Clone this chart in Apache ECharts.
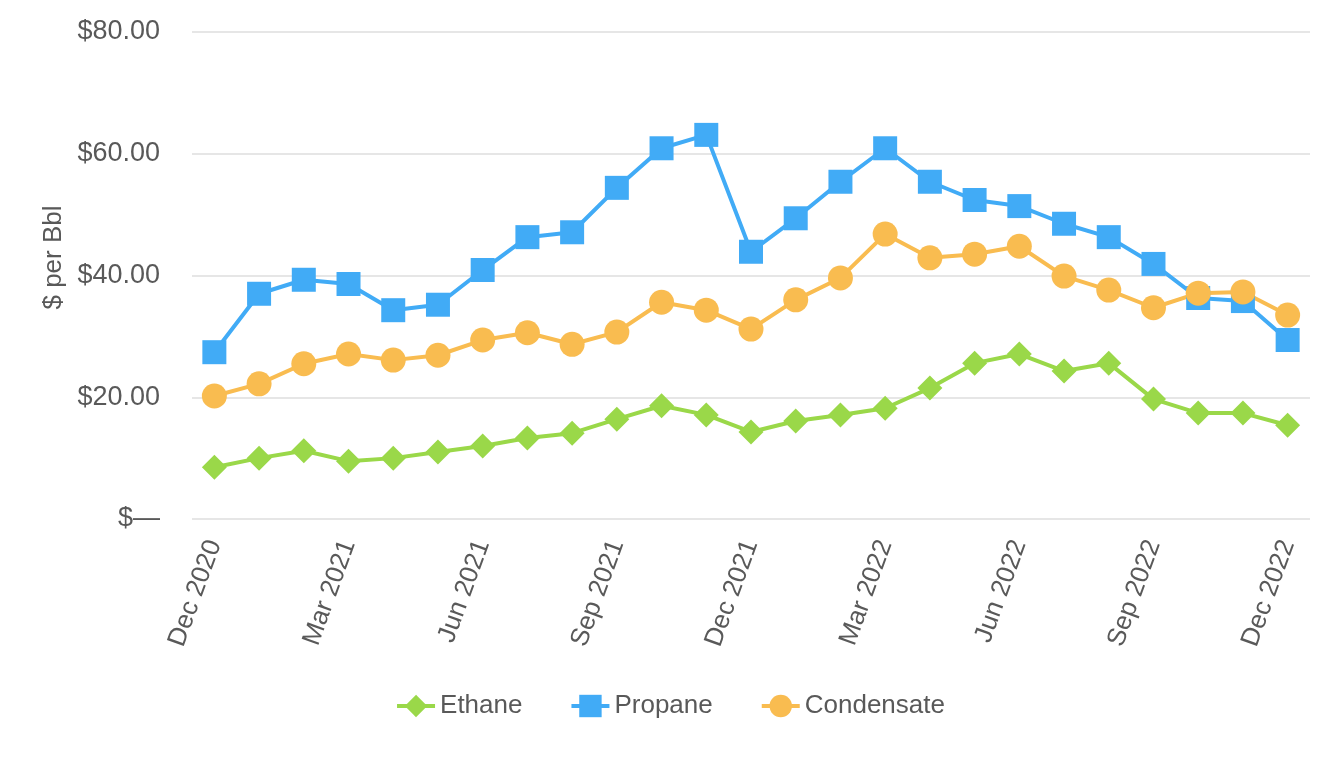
<!DOCTYPE html>
<html>
<head>
<meta charset="utf-8">
<script src="https://cdn.jsdelivr.net/npm/echarts@6/dist/echarts.min.js"></script>
<style>
html,body{margin:0;padding:0;background:#fff;}
#chart{width:1340px;height:760px;}
</style>
</head>
<body>
<div id="chart"></div>
<script>
const categories = ['Dec 2020','Jan 2021','Feb 2021','Mar 2021','Apr 2021','May 2021','Jun 2021','Jul 2021','Aug 2021','Sep 2021','Oct 2021','Nov 2021','Dec 2021','Jan 2022','Feb 2022','Mar 2022','Apr 2022','May 2022','Jun 2022','Jul 2022','Aug 2022','Sep 2022','Oct 2022','Nov 2022','Dec 2022'];
const ethane = [8.5,10.0,11.2,9.5,10.0,11.0,12.0,13.3,14.1,16.4,18.6,17.1,14.3,16.1,17.1,18.2,21.5,25.6,27.1,24.3,25.6,19.7,17.4,17.4,15.4];
const propane = [27.4,37.0,39.3,38.6,34.3,35.2,40.9,46.3,47.1,54.4,60.9,63.1,43.9,49.4,55.4,60.9,55.4,52.4,51.4,48.5,46.3,41.9,36.3,35.8,29.4];
const condensate = [20.2,22.2,25.5,27.1,26.1,26.9,29.4,30.6,28.7,30.7,35.6,34.3,31.2,36.0,39.6,46.8,42.9,43.5,44.8,39.9,37.6,34.7,37.1,37.3,33.5];
const yTicks = [0,20,40,60,80];

const chart = echarts.init(document.getElementById('chart'), null, {renderer:'canvas'});
const font = 'Liberation Sans, Arial, Helvetica, sans-serif';
const txt = '#595959';
function line(name, data, color, symbol, size){
  return {name, type:'line', data, symbol, symbolSize:size, showSymbol:true,
    itemStyle:{color}, lineStyle:{color, width:4}, emphasis:{disabled:true}, animation:false};
}
chart.setOption({
  animation:false,
  textStyle:{fontFamily:font},
  grid:{left:192, right:30, top:32, bottom:241, containLabel:false},
  legend:{
    data:['Ethane','Propane','Condensate'], top:688, left:'center',
    itemWidth:38, itemHeight:28, itemGap:47,
    lineStyle:{width:4},
    textStyle:{fontSize:26, color:txt, fontFamily:font}
  },
  xAxis:{
    type:'category', data:categories, boundaryGap:true,
    axisLine:{show:false}, axisTick:{show:false},
    axisLabel:{interval:2, rotate:70, fontSize:26, color:txt, margin:22, fontFamily:font}
  },
  yAxis:{
    type:'value', min:yTicks[0], max:yTicks[yTicks.length-1], interval:20,
    name:'$ per Bbl', nameLocation:'middle', nameGap:125,
    nameTextStyle:{fontSize:26, color:txt, fontFamily:font, padding:[0,0,0,36]},
    axisLine:{show:false}, axisTick:{show:false},
    splitLine:{lineStyle:{color:'#e6e6e6', width:2}},
    axisLabel:{fontSize:27, color:txt, margin:32, fontFamily:font,
      formatter:v => v===0 ? '$\u2014' : '$' + v.toFixed(2)}
  },
  series:[
    line('Ethane', ethane, '#9ad849', 'diamond', 25),
    line('Propane', propane, '#41abf6', 'rect', 24),
    line('Condensate', condensate, '#f9bc50', 'circle', 25)
  ]
});
</script>
</body>
</html>
